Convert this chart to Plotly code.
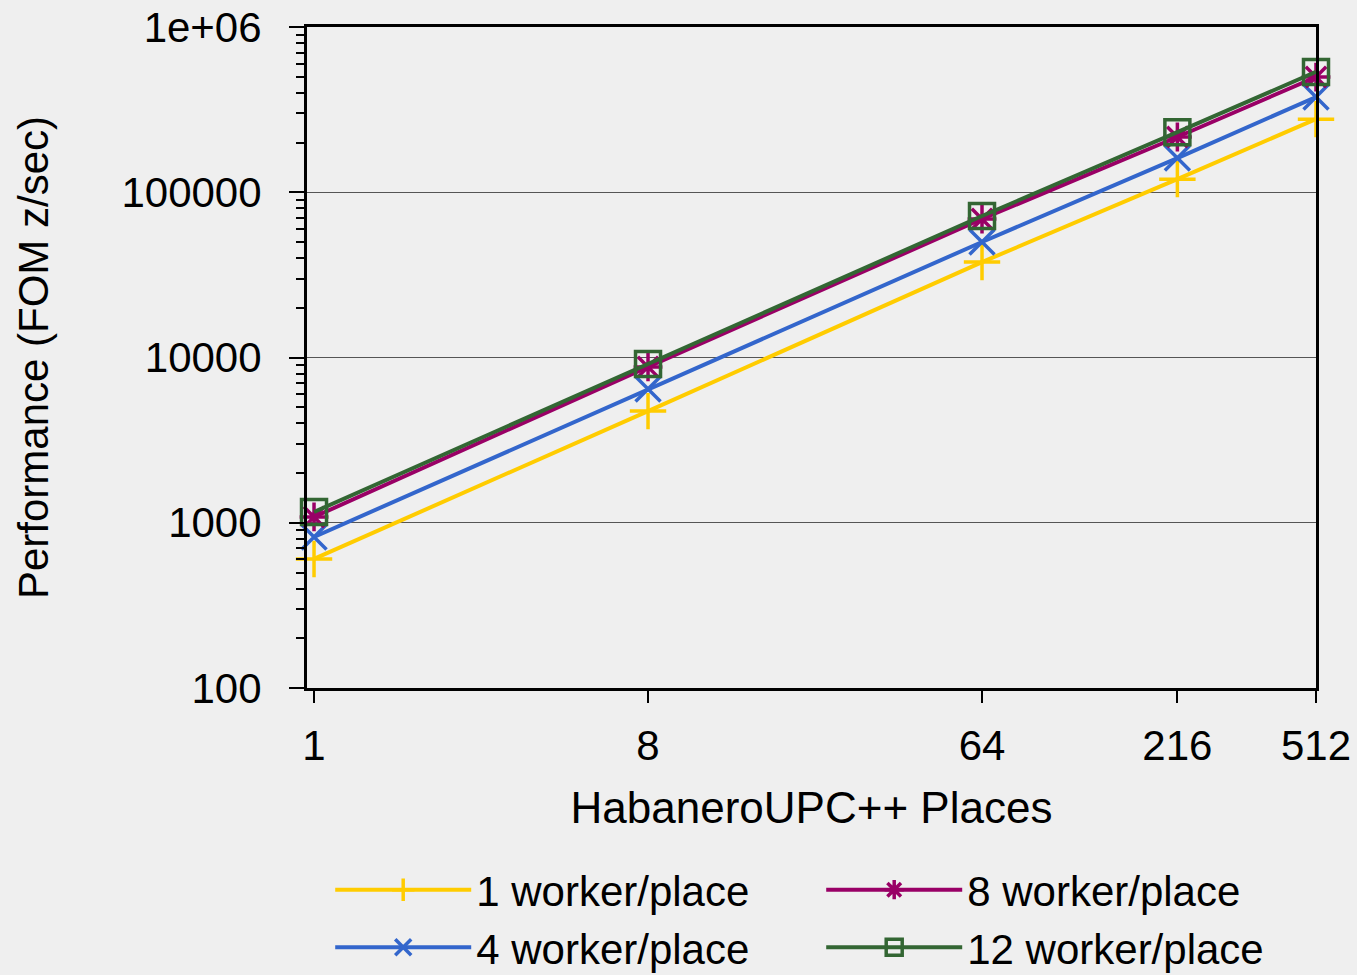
import plotly.graph_objects as go
import math

places = [1, 8, 64, 216, 512]
w1 = [604, 4740, 37800, 120000, 277000]
w4 = [820, 6440, 50000, 161000, 377000]
w8 = [1084, 8770, 68900, 216000, 498000]
w12 = [1162, 9140, 71800, 231000, 535000]

series = [
    ("1 worker/place", w1, "#FFCC00", "cross-thin-open", 1, 26),
    ("4 worker/place", w4, "#3366CC", "x-thin-open", 3, 25),
    ("8 worker/place", w8, "#990066", "asterisk-open", 2, 24),
    ("12 worker/place", w12, "#336633", "square-open", 4, 25),
]

ytickvals = [100, 1000, 10000, 100000, 1000000]
yticktext = ["100", "1000", "10000", "100000", "1e+06"]
minor_vals = [m * 10 ** d for d in range(2, 6) for m in range(2, 10)]

FONT = "Liberation Sans, Arial, sans-serif"

fig = go.Figure()
for name, vals, color, sym, rank, msize in series:
    fig.add_trace(go.Scatter(
        x=places, y=vals, name=name, mode="lines+markers",
        line=dict(color=color, width=4),
        marker=dict(symbol=sym, size=msize,
                    color=color, line=dict(color=color, width=3.5)),
        legendrank=rank, cliponaxis=False,
    ))

fig.update_layout(
    width=1357, height=975,
    paper_bgcolor="#EFEFEF", plot_bgcolor="#EFEFEF",
    margin=dict(l=307, r=41, t=27, b=287, autoexpand=False),
    font=dict(family=FONT, size=42, color="black"),
    legend=dict(orientation="h", x=0.023, xanchor="left", y=-0.254, yanchor="top",
                bgcolor="rgba(0,0,0,0)", font=dict(size=42),
                entrywidth=340, entrywidthmode="pixels", itemwidth=136,
                tracegroupgap=0),
    showlegend=True,
)

fig.update_xaxes(
    type="log", range=[math.log10(1) - 0.019, math.log10(512)],
    tickvals=places, ticktext=[str(p) for p in places],
    ticks="outside", ticklen=12, tickwidth=2, tickcolor="black",
    showline=True, linewidth=3, linecolor="black", mirror=True,
    showgrid=False, zeroline=False, ticklabelstandoff=7, automargin=False,
    title=dict(text="HabaneroUPC++ Places", standoff=24, font=dict(size=44)),
)
fig.update_yaxes(
    type="log", range=[2, 6],
    tickvals=ytickvals, ticktext=yticktext,
    ticks="outside", ticklen=15, tickwidth=2, tickcolor="black",
    minor=dict(tickvals=minor_vals, ticks="outside", ticklen=8, tickwidth=2,
               tickcolor="black", showgrid=False),
    showline=True, linewidth=3, linecolor="black", mirror=True,
    showgrid=True, gridcolor="#555555", gridwidth=1, zeroline=False,
    ticklabelstandoff=19, automargin=False,
    title=dict(text="Performance (FOM z/sec)", standoff=60, font=dict(size=42)),
)

fig.write_html(
    "out.html",
    config={"displayModeBar": False},
    post_script="document.body.style.margin='0';document.body.style.background='#EFEFEF';",
)
